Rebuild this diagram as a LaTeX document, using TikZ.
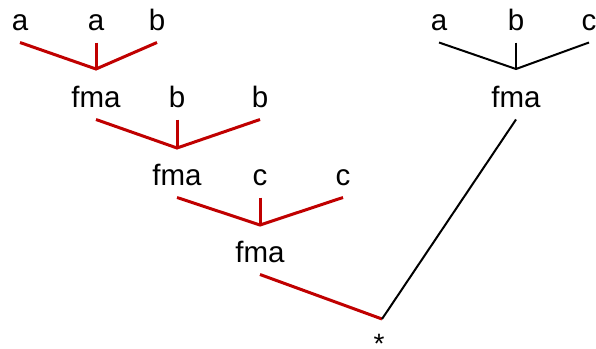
\documentclass[tikz,border=0pt]{standalone}
\usepackage{fontspec}
\setmainfont{Liberation Sans}
\definecolor{treered}{RGB}{192,0,0}
\begin{document}
\begin{tikzpicture}[x=1pt,y=-1pt,
  lbl/.style={anchor=base,inner sep=0pt,outer sep=0pt,text depth=12.5pt,font=\fontsize{29.5}{31}\selectfont},
  redline/.style={draw=treered,line width=3pt},
  blkline/.style={draw=black,line width=2pt}]
\useasboundingbox (0,0) rectangle (596,348);
% row 1
\node[lbl] (a1) at (20,30) {a};
\node[lbl] (a2) at (96,30) {a};
\node[lbl] (b1) at (157,30) {b};
\node[lbl] (ra) at (439,30) {a};
\node[lbl] (rb) at (516,30) {b};
\node[lbl] (rc) at (589,30) {c};
% row 2
\node[lbl] (f1) at (96,107) {fma};
\node[lbl] (b2) at (177,107) {b};
\node[lbl] (b3) at (260,107) {b};
\node[lbl] (rf) at (516,107) {fma};
% row 3
\node[lbl] (f2) at (177,185) {fma};
\node[lbl] (c1) at (260,185) {c};
\node[lbl] (c2) at (343,185) {c};
% row 4
\node[lbl] (f3) at (260,262) {fma};
\node[inner sep=0pt,font=\fontsize{28}{30}\selectfont] (st) at (379,344) {*};
% junctions
\coordinate (j1) at (96,69);
\coordinate (j2) at (177,148);
\coordinate (j3) at (260,225);
\coordinate (j4) at (382,319);
\coordinate (j5) at (516,69);
% red tree
\draw[redline] (a1.south) -- (j1) -- (b1.south);
\draw[redline] (a2.south) -- (j1);
\draw[redline] (f1.south) -- (j2) -- (b3.south);
\draw[redline] (b2.south) -- (j2);
\draw[redline] (f2.south) -- (j3) -- (c2.south);
\draw[redline] (c1.south) -- (j3);
\draw[redline] (f3.south) -- (j4);
% black tree
\draw[blkline] (ra.south) -- (j5) -- (rc.south);
\draw[blkline] (rb.south) -- (j5);
\draw[blkline] (rf.south) -- (j4);
\end{tikzpicture}
\end{document}
